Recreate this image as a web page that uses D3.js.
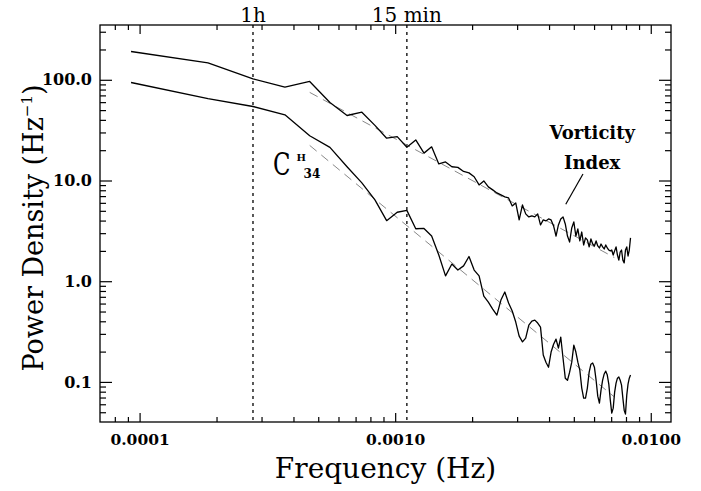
<!DOCTYPE html>
<html>
<head>
<meta charset="utf-8">
<script src="https://cdn.jsdelivr.net/npm/d3@7"></script>
<style>
    body { margin: 0; background: #fff; }
    text { font-family: "DejaVu Serif", "Liberation Serif", serif; fill: #000; }
</style>
</head>
<body>
<svg id="chart" width="701" height="491"></svg>
<script>
// spectra are sampled at harmonics k / (3 h)
const baseFreq = 1 / 10800;
const harmonics = d3.range(1, 91);

const vorticity = [
    191, 147, 102, 84.6, 96.2, 59.5, 44.2, 47.7, 35.3, 26.3,
    27.3, 21.4, 25.3, 18.7, 21.6, 14.6, 15.3, 13.7, 13.5, 12.3,
    11.9, 10.9, 9.04, 9.91, 8.64, 8.07, 7.53, 7.19, 6.87, 6.71,
    5.59, 5.99, 4.06, 5.72, 4.66, 4.35, 4.45, 4.35, 4.66, 3.62,
    4.06, 3.97, 4.15, 4.06, 3.54, 2.81, 3.62, 4.15, 4.35, 3.70,
    2.81, 2.45, 3.38, 3.88, 2.81, 3.30, 2.51, 3.08, 2.29, 2.69,
    2.57, 2.19, 2.63, 2.34, 2.24, 2.51, 2.24, 2.14, 2.34, 2.19,
    2.09, 2.29, 2.14, 2.04, 2.00, 2.04, 1.82, 2.00, 2.19, 1.82,
    1.62, 1.95, 2.04, 1.62, 1.52, 2.04, 2.19, 1.78, 2.04, 2.69
];

const c34 = [
    94.0, 65.0, 54.3, 44.9, 27.8, 21.3, 13.7, 9.47, 6.42, 3.99,
    4.84, 5.05, 3.32, 3.34, 2.81, 1.82, 1.13, 1.48, 1.29, 1.42,
    1.76, 1.29, 1.13, 0.711, 0.621, 0.529, 0.461, 0.650, 0.781, 0.607,
    0.506, 0.393, 0.285, 0.250, 0.272, 0.367, 0.402, 0.411, 0.384, 0.350,
    0.185, 0.157, 0.140, 0.198, 0.237, 0.266, 0.217, 0.279, 0.172, 0.109,
    0.104, 0.125, 0.157, 0.232, 0.198, 0.157, 0.131, 0.0868, 0.069, 0.069,
    0.0868, 0.125, 0.150, 0.154, 0.140, 0.104, 0.0722, 0.0616, 0.0829, 0.104,
    0.120, 0.128, 0.117, 0.0951, 0.0659, 0.049, 0.0549, 0.0792, 0.0973, 0.109,
    0.112, 0.104, 0.0929, 0.069, 0.0524, 0.0479, 0.0739, 0.0951, 0.109, 0.117
];

// power law fits, end points only
const fitFreq = [4.63e-4, 7.2e-3];
const vorticityFit = [75, 1.72];
const c34Fit = [22.3, 0.071];

const periodFreq = [1 / 3600, 1 / 900];
const periodLabels = ["1h", "15 min"];

const xTicks = [1e-4, 1e-3, 1e-2];
const xTickLabels = ["0.0001", "0.0010", "0.0100"];
const xMinor = [8e-5, 9e-5, 2e-4, 3e-4, 4e-4, 5e-4, 6e-4, 7e-4, 8e-4, 9e-4,
    2e-3, 3e-3, 4e-3, 5e-3, 6e-3, 7e-3, 8e-3, 9e-3];
const yTicks = [0.1, 1, 10, 100];
const yTickLabels = ["0.1", "1.0", "10.0", "100.0"];
const yMinor = [0.05, 0.06, 0.07, 0.08, 0.09, 0.2, 0.3, 0.4, 0.5, 0.6, 0.7, 0.8, 0.9,
    2, 3, 4, 5, 6, 7, 8, 9, 20, 30, 40, 50, 60, 70, 80, 90, 200, 300];

const plotLeft = 100, plotRight = 671, plotTop = 25, plotBottom = 422;

const svg = d3.select("#chart");

const x = d3.scaleLog().domain([7e-5, 0.012]).range([plotLeft, plotRight]);
const y = d3.scaleLog().domain([0.04, 350]).range([plotBottom, plotTop]);

// axes, ticks pointing into the frame
function styleAxis(g) {
    g.attr("font-family", null).attr("font-size", null);
    g.select(".domain").remove();
    g.selectAll(".tick line").attr("stroke", "#000").attr("stroke-width", 1.2);
}

svg.append("g")
    .attr("transform", `translate(0,${plotBottom})`)
    .call(d3.axisBottom(x).tickValues(xTicks).tickSize(-9).tickPadding(12)
        .tickFormat((d, i) => xTickLabels[i]))
    .call(styleAxis)
    .call((g) => g.selectAll("text").attr("font-size", 15.5).attr("font-weight", "bold"));

svg.append("g")
    .attr("transform", `translate(0,${plotBottom})`)
    .call(d3.axisBottom(x).tickValues(xMinor).tickSize(-5).tickFormat(""))
    .call(styleAxis);

svg.append("g")
    .attr("transform", `translate(0,${plotTop})`)
    .call(d3.axisTop(x).tickValues(xTicks).tickSize(-9).tickFormat(""))
    .call(styleAxis);

svg.append("g")
    .attr("transform", `translate(0,${plotTop})`)
    .call(d3.axisTop(x).tickValues(xMinor).tickSize(-5).tickFormat(""))
    .call(styleAxis);

svg.append("g")
    .attr("transform", `translate(${plotLeft},0)`)
    .call(d3.axisLeft(y).tickValues(yTicks).tickSize(-12).tickPadding(8)
        .tickFormat((d, i) => yTickLabels[i]))
    .call(styleAxis)
    .call((g) => g.selectAll("text").attr("font-size", 16).attr("font-weight", "bold"));

svg.append("g")
    .attr("transform", `translate(${plotLeft},0)`)
    .call(d3.axisLeft(y).tickValues(yMinor).tickSize(-6).tickFormat(""))
    .call(styleAxis);

svg.append("g")
    .attr("transform", `translate(${plotRight},0)`)
    .call(d3.axisRight(y).tickValues(yTicks).tickSize(-12).tickFormat(""))
    .call(styleAxis);

svg.append("g")
    .attr("transform", `translate(${plotRight},0)`)
    .call(d3.axisRight(y).tickValues(yMinor).tickSize(-6).tickFormat(""))
    .call(styleAxis);

svg.append("rect")
    .attr("x", plotLeft)
    .attr("y", plotTop)
    .attr("width", plotRight - plotLeft)
    .attr("height", plotBottom - plotTop)
    .attr("fill", "none")
    .attr("stroke", "#000")
    .attr("stroke-width", 1.3);

// 1h and 15 min periods
svg.selectAll(".period")
    .data(periodFreq)
    .enter()
    .append("line")
    .attr("class", "period")
    .attr("x1", (d) => x(d))
    .attr("x2", (d) => x(d))
    .attr("y1", plotTop)
    .attr("y2", plotBottom)
    .attr("stroke", "#000")
    .attr("stroke-width", 1.3)
    .attr("stroke-dasharray", "3,4");

svg.selectAll(".period-label")
    .data(periodFreq)
    .enter()
    .append("text")
    .attr("class", "period-label")
    .attr("x", (d) => x(d))
    .attr("y", 22)
    .attr("text-anchor", "middle")
    .attr("font-size", 20)
    .text((d, i) => periodLabels[i]);

// fitted slopes
const fitLine = d3.line().x((d) => x(d[0])).y((d) => y(d[1]));
[vorticityFit, c34Fit].forEach((fit) => {
    svg.append("path")
        .attr("d", fitLine(fitFreq.map((f, i) => [f, fit[i]])))
        .attr("fill", "none")
        .attr("stroke", "#888")
        .attr("stroke-width", 1)
        .attr("stroke-dasharray", "9,6");
});

// spectra
const specLine = d3.line()
    .x((d, i) => x(harmonics[i] * baseFreq))
    .y((d) => y(d));

[vorticity, c34].forEach((series) => {
    svg.append("path")
        .attr("d", specLine(series))
        .attr("fill", "none")
        .attr("stroke", "#000")
        .attr("stroke-width", 1.3)
        .attr("stroke-linejoin", "round");
});

// labels
svg.append("text")
    .attr("x", (plotLeft + plotRight) / 2)
    .attr("y", 478)
    .attr("text-anchor", "middle")
    .attr("font-size", 28)
    .text("Frequency (Hz)");

const yTitle = svg.append("text")
    .attr("transform", "translate(43,228) rotate(-90)")
    .attr("text-anchor", "middle")
    .attr("font-size", 27);
yTitle.append("tspan").text("Power Density (Hz");
yTitle.append("tspan").attr("dy", -11).attr("font-size", 15).text("\u22121");
yTitle.append("tspan").attr("dy", 11).text(")");

svg.append("text")
    .attr("x", x(5.9e-3))
    .attr("y", 139)
    .attr("text-anchor", "middle")
    .attr("font-size", 18)
    .attr("font-weight", "bold")
    .text("Vorticity");

svg.append("text")
    .attr("x", x(5.9e-3))
    .attr("y", 169)
    .attr("text-anchor", "middle")
    .attr("font-size", 18)
    .attr("font-weight", "bold")
    .text("Index");

svg.append("line")
    .attr("x1", x(5.43e-3))
    .attr("y1", y(11.6))
    .attr("x2", x(4.65e-3))
    .attr("y2", y(5.81))
    .attr("stroke", "#000")
    .attr("stroke-width", 1.2);

// C^H_34 tag next to the lower spectrum, one text with tspans
const cLabel = svg.append("text")
    .attr("transform", `translate(${x(3.33e-4)},${y(11.4)})`);
cLabel.append("tspan")
    .attr("x", 0)
    .attr("y", 0)
    .attr("font-size", 31)
    .attr("textLength", 17.5)
    .attr("lengthAdjust", "spacingAndGlyphs")
    .text("C");
cLabel.append("tspan")
    .attr("x", 23.5)
    .attr("y", -14)
    .attr("font-size", 10)
    .attr("font-weight", "bold")
    .text("H");
cLabel.append("tspan")
    .attr("x", 30.5)
    .attr("y", 3)
    .attr("font-size", 12)
    .attr("font-weight", "bold")
    .text("34");
</script>
</body>
</html>
